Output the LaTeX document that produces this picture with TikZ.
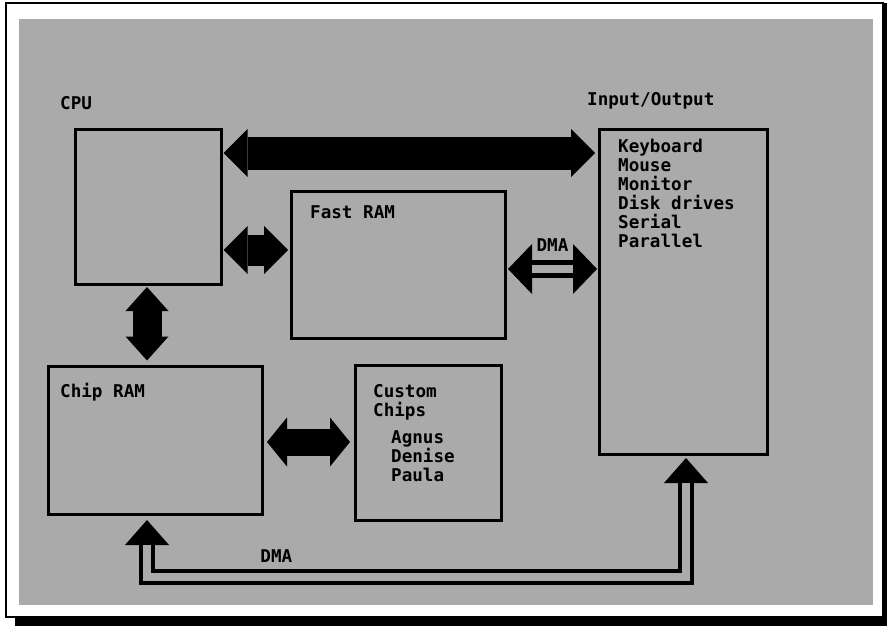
\documentclass[tikz,border=0pt]{standalone}
\usepackage{fontspec}
\setmonofont{DejaVu Sans Mono}
\usetikzlibrary{arrows.meta,positioning}

\definecolor{screengray}{RGB}{170,170,170}

\tikzset{
  unit/.style 2 args={draw, line width=3pt, minimum width=#1, minimum height=#2, inner sep=0pt},
  lbl/.style={font=\ttfamily\bfseries\fontsize{17.6}{19}\selectfont, inner sep=0pt, anchor=base west, align=left},
  bus/.style n args={3}{line width=#1, arrows={{Triangle[length=#2,width=#3,line width=0pt]}-{Triangle[length=#2,width=#3,line width=0pt]}}},
  gap/.style 2 args={draw=screengray, line width=#1, shorten <=#2, shorten >=#2},
}

\begin{document}
\begin{tikzpicture}[x=1pt, y=-1pt]
            \useasboundingbox (0,0) rectangle (887,626);
            % screen frame
            \fill[black] (15,3) rectangle (887,626);
            \draw[line width=2pt, fill=white] (6,3) rectangle (883,617);
            \fill[screengray] (19,19) rectangle (873,605);

            % units
            \node[unit={146pt}{155pt}] (cpu) at (148,206.5) {};
            \node[unit={214pt}{147pt}] (fast) at (398,264.5) {};
            \node[unit={168pt}{325pt}] (io) at (683,291.5) {};
            \node[unit={214pt}{148pt}] (chip) at (155,440) {};
            \node[unit={146pt}{155pt}] (custom) at (428,442.5) {};

            % labels (multi-line ones sit on their last baseline)
            \node[lbl] (cpulbl) at (60,110) {CPU};
            \node[lbl] (iolbl) at (587,106) {Input/Output};
            \node[lbl] (fastlbl) at (310,218) {Fast RAM};
            \node[lbl] (chiplbl) at (60,397) {Chip RAM};
            \node[lbl] (customlbl) at (373,416) {Custom\\Chips};
            \node[lbl] (chipset) at (391,481) {Agnus\\Denise\\Paula};
            \node[lbl] (devices) at (618,247) {Keyboard\\Mouse\\Monitor\\Disk drives\\Serial\\Parallel};

            % buses
            \draw[bus={33pt}{24pt}{48pt}] ([shift={(1,-53.5)}]cpu.east) -- ([shift={(-2.5,-138.5)}]io.west);
            \draw[bus={31pt}{24pt}{48pt}] ([shift={(1,43.5)}]cpu.east) -- ([shift={(-1.5,-14.5)}]fast.west);
            \draw[bus={29pt}{24pt}{43pt}] ([shift={(-1,1.5)}]cpu.south) -- ([shift={(-1,-4)}]cpu.south |- chip.north);
            \draw[bus={27pt}{20pt}{49pt}] ([shift={(3.5,2)}]chip.east) -- ([shift={(-3.5,-0.5)}]custom.west);

            % dma channels
            \draw[bus={18pt}{24pt}{50pt}] ([shift={(1.5,4.5)}]fast.east) -- ([shift={(-0.5,-22.5)}]io.west)
                node[lbl, anchor=south, midway, yshift=9pt] (dmatop) {DMA};
            \draw[gap={8pt}{24pt}] ([shift={(1.5,4.5)}]fast.east) -- ([shift={(-0.5,-22.5)}]io.west);
            \draw[bus={16pt}{25pt}{44pt}, line join=miter] ([shift={(-8,4.5)}]chip.south) -- ++(0,57) -| ([shift={(3,2.5)}]io.south)
                node[lbl, anchor=base, pos=0.12, yshift=15pt] (dmabot) {DMA};
            \draw[gap={8pt}{25pt}, line join=miter] ([shift={(-8,4.5)}]chip.south) -- ++(0,57) -| ([shift={(3,2.5)}]io.south);
        \end{tikzpicture}
\end{document}
